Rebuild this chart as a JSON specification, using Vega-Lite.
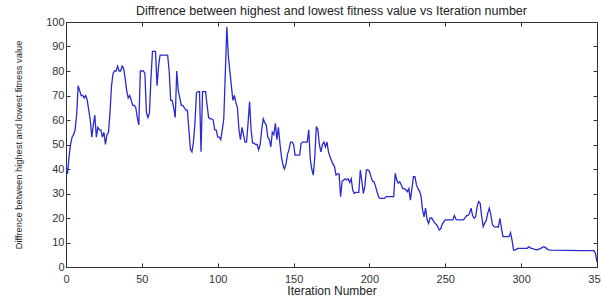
{
  "$schema": "https://vega.github.io/schema/vega-lite/v6.json",
  "autosize": {"type": "none"},
  "padding": {"left": 66, "top": 22, "right": 4, "bottom": 31},
  "width": 531,
  "height": 245,
  "title": {"text": "Diffrence between highest and lowest fitness value vs Iteration number", "font": "Liberation Sans", "fontSize": 12.5, "fontWeight": "normal", "color": "#222", "offset": -1, "anchor": "middle"},
  "config": {"view": {"stroke": "#333", "strokeWidth": 1}, "font": "Liberation Sans"},
  "data": {"values": [
    {"it":0,"v":42},{"it":1,"v":38},{"it":2,"v":45},{"it":3,"v":50},{"it":4,"v":53},{"it":5,"v":54},{"it":6,"v":56},{"it":7,"v":62},{"it":8,"v":74},{"it":9,"v":72},
    {"it":10,"v":70},{"it":11,"v":70},{"it":12,"v":69},{"it":13,"v":70},{"it":14,"v":68},{"it":15,"v":64},{"it":16,"v":60},{"it":17,"v":53},{"it":18,"v":58},{"it":19,"v":62},
    {"it":20,"v":53},{"it":21,"v":57},{"it":22,"v":56},{"it":23,"v":56},{"it":24,"v":53},{"it":25,"v":55},{"it":26,"v":50},{"it":27,"v":54},{"it":28,"v":55},{"it":29,"v":63},
    {"it":30,"v":74},{"it":31,"v":79},{"it":32,"v":80},{"it":33,"v":80},{"it":34,"v":82},{"it":35,"v":80},{"it":36,"v":80},{"it":37,"v":82},{"it":38,"v":81},{"it":39,"v":77},
    {"it":40,"v":72},{"it":41,"v":69},{"it":42,"v":70},{"it":43,"v":68},{"it":44,"v":66},{"it":45,"v":66},{"it":46,"v":65},{"it":47,"v":61},{"it":48,"v":58},{"it":49,"v":80},
    {"it":50,"v":80},{"it":51,"v":80},{"it":52,"v":79},{"it":53,"v":63},{"it":54,"v":61},{"it":55,"v":63},{"it":56,"v":77},{"it":57,"v":88},{"it":58,"v":88},{"it":59,"v":88},
    {"it":60,"v":74},{"it":61,"v":82},{"it":62,"v":86.5},{"it":63,"v":86.5},{"it":64,"v":86.5},{"it":65,"v":86.5},{"it":66,"v":86.5},{"it":67,"v":86.5},{"it":68,"v":80},{"it":69,"v":68},
    {"it":70,"v":68},{"it":71,"v":65},{"it":72,"v":61},{"it":73,"v":80},{"it":74,"v":72},{"it":75,"v":69},{"it":76,"v":66},{"it":77,"v":66},{"it":78,"v":65},{"it":79,"v":64},
    {"it":80,"v":64},{"it":81,"v":56},{"it":82,"v":48},{"it":83,"v":47},{"it":84,"v":51},{"it":85,"v":59},{"it":86,"v":71},{"it":87,"v":71.6},{"it":88,"v":71.6},{"it":89,"v":47},
    {"it":90,"v":71.6},{"it":91,"v":71.6},{"it":92,"v":71.6},{"it":93,"v":66},{"it":94,"v":61},{"it":95,"v":60.5},{"it":96,"v":60.5},{"it":97,"v":60},{"it":98,"v":56},{"it":99,"v":56},
    {"it":100,"v":53},{"it":101,"v":53},{"it":102,"v":52},{"it":103,"v":56},{"it":104,"v":60.5},{"it":105,"v":79},{"it":106,"v":98},{"it":107,"v":86},{"it":108,"v":80},{"it":109,"v":74},
    {"it":110,"v":68},{"it":111,"v":70},{"it":112,"v":67},{"it":113,"v":65},{"it":114,"v":56},{"it":115,"v":52},{"it":116,"v":57},{"it":117,"v":54},{"it":118,"v":51},{"it":119,"v":51},
    {"it":120,"v":58.7},{"it":121,"v":67.5},{"it":122,"v":56},{"it":123,"v":50.6},{"it":124,"v":50.6},{"it":125,"v":50},{"it":126,"v":50},{"it":127,"v":47.8},{"it":128,"v":50},{"it":129,"v":56},
    {"it":130,"v":60.5},{"it":131,"v":59},{"it":132,"v":58},{"it":133,"v":53},{"it":134,"v":52},{"it":135,"v":49},{"it":136,"v":55},{"it":137,"v":54},{"it":138,"v":58.6},{"it":139,"v":52},
    {"it":140,"v":57},{"it":141,"v":50.5},{"it":142,"v":45},{"it":143,"v":41.6},{"it":144,"v":40},{"it":145,"v":42},{"it":146,"v":46},{"it":147,"v":48},{"it":148,"v":51},{"it":149,"v":51},
    {"it":150,"v":50},{"it":151,"v":45.7},{"it":152,"v":45.7},{"it":153,"v":45.7},{"it":154,"v":45.7},{"it":155,"v":50.5},{"it":156,"v":51},{"it":157,"v":51},{"it":158,"v":51},{"it":159,"v":51},
    {"it":160,"v":56},{"it":161,"v":44},{"it":162,"v":40},{"it":163,"v":37.5},{"it":164,"v":45},{"it":165,"v":57.3},{"it":166,"v":56},{"it":167,"v":50},{"it":168,"v":47},{"it":169,"v":50},
    {"it":170,"v":51},{"it":171,"v":49},{"it":172,"v":51},{"it":173,"v":47},{"it":174,"v":45},{"it":175,"v":43.5},{"it":176,"v":42},{"it":177,"v":41},{"it":178,"v":37.5},{"it":179,"v":38},
    {"it":180,"v":38},{"it":181,"v":28.7},{"it":182,"v":35},{"it":183,"v":35.5},{"it":184,"v":36},{"it":185,"v":35.5},{"it":186,"v":36},{"it":187,"v":34.5},{"it":188,"v":36},{"it":189,"v":31.4},
    {"it":190,"v":30},{"it":191,"v":30.5},{"it":192,"v":30.5},{"it":193,"v":30.5},{"it":194,"v":39.6},{"it":195,"v":35},{"it":196,"v":30},{"it":197,"v":33},{"it":198,"v":39.6},{"it":199,"v":39.6},
    {"it":200,"v":39},{"it":201,"v":36.9},{"it":202,"v":35},{"it":203,"v":34.9},{"it":204,"v":33},{"it":205,"v":30.7},{"it":206,"v":28.7},{"it":207,"v":28},{"it":210,"v":28},{"it":211,"v":28.7},
    {"it":216,"v":28.7},{"it":217,"v":38.2},{"it":218,"v":35.5},{"it":219,"v":34.2},{"it":220,"v":34.8},{"it":221,"v":33.5},{"it":222,"v":32},{"it":223,"v":32},{"it":224,"v":31.6},{"it":225,"v":30.7},
    {"it":226,"v":32},{"it":227,"v":27.3},{"it":228,"v":32},{"it":229,"v":36.9},{"it":230,"v":36.9},{"it":231,"v":33.5},{"it":232,"v":32},{"it":233,"v":31},{"it":234,"v":29},{"it":235,"v":23.3},
    {"it":236,"v":20.5},{"it":237,"v":24},{"it":238,"v":19.5},{"it":239,"v":17.8},{"it":240,"v":20},{"it":241,"v":20},{"it":242,"v":19},{"it":243,"v":18},{"it":244,"v":17.5},{"it":245,"v":16.5},
    {"it":246,"v":15.1},{"it":247,"v":15.6},{"it":248,"v":17.5},{"it":249,"v":18.5},{"it":250,"v":19.2},{"it":255,"v":19.2},{"it":256,"v":21},{"it":257,"v":19.5},{"it":258,"v":19.2},{"it":262,"v":19.2},
    {"it":263,"v":20},{"it":264,"v":21},{"it":265,"v":21},{"it":266,"v":22},{"it":267,"v":24},{"it":268,"v":21},{"it":269,"v":19.9},{"it":270,"v":20.5},{"it":271,"v":24.6},{"it":272,"v":26.7},
    {"it":273,"v":26},{"it":274,"v":20.5},{"it":275,"v":16.5},{"it":276,"v":18},{"it":277,"v":19},{"it":278,"v":22},{"it":279,"v":24},{"it":280,"v":21.5},{"it":281,"v":17.5},{"it":282,"v":16.5},
    {"it":283,"v":16.3},{"it":284,"v":16.5},{"it":285,"v":16.3},{"it":286,"v":19.9},{"it":287,"v":16},{"it":288,"v":12.4},{"it":292,"v":12.4},{"it":293,"v":14},{"it":294,"v":11},{"it":295,"v":6.9},
    {"it":296,"v":6.9},{"it":297,"v":7.3},{"it":298,"v":7.6},{"it":304,"v":7.6},{"it":305,"v":8.3},{"it":306,"v":7.8},{"it":307,"v":7.6},{"it":308,"v":7.4},{"it":309,"v":7.2},{"it":311,"v":7},
    {"it":312,"v":7.4},{"it":313,"v":7.6},{"it":314,"v":8},{"it":315,"v":8.3},{"it":316,"v":7.9},{"it":317,"v":7.4},{"it":318,"v":7},{"it":320,"v":6.9},{"it":330,"v":6.8},{"it":340,"v":6.7},
    {"it":348,"v":6.7},{"it":349,"v":5.5},{"it":350,"v":2}
  ]},
  "layer": [
    {
      "mark": {"type": "line", "color": "#2a2ad0", "strokeWidth": 1.3, "interpolate": "linear", "clip": true},
      "encoding": {
        "x": {"field": "it", "type": "quantitative", "scale": {"domain": [0, 350], "nice": false, "zero": false},
              "axis": {"title": "Iteration Number", "values": [0,50,100,150,200,250,300,350], "tickSize": -4, "labelPadding": 10, "labelFontSize": 11, "labelColor": "#333", "titleFontSize": 12, "titleFontWeight": "normal", "titleColor": "#222", "titlePadding": 1, "grid": false, "domainColor": "#333", "tickColor": "#333", "labelFlush": false, "labelOverlap": false}},
        "y": {"field": "v", "type": "quantitative", "scale": {"domain": [0, 100], "nice": false},
              "axis": {"title": "Diffrence between highest and lowest fitness value", "values": [0,10,20,30,40,50,60,70,80,90,100], "tickSize": -4, "labelPadding": 6, "labelFontSize": 11, "labelColor": "#333", "titleFontSize": 9.3, "titleFontWeight": "normal", "titleColor": "#222", "titlePadding": 22, "grid": false, "domainColor": "#333", "tickColor": "#333", "labelFlush": false, "labelOverlap": false}}
      }
    },
    {
      "mark": {"type": "line", "opacity": 0},
      "encoding": {
        "x": {"field": "it", "type": "quantitative", "axis": {"orient": "top", "title": null, "labels": false, "values": [0,50,100,150,200,250,300,350], "tickSize": -4, "grid": false, "domainColor": "#333", "tickColor": "#333"}},
        "y": {"field": "v", "type": "quantitative", "axis": {"orient": "right", "title": null, "labels": false, "values": [0,10,20,30,40,50,60,70,80,90,100], "tickSize": -4, "grid": false, "domainColor": "#333", "tickColor": "#333"}}
      }
    }
  ],
  "resolve": {"axis": {"x": "independent", "y": "independent"}}
}
